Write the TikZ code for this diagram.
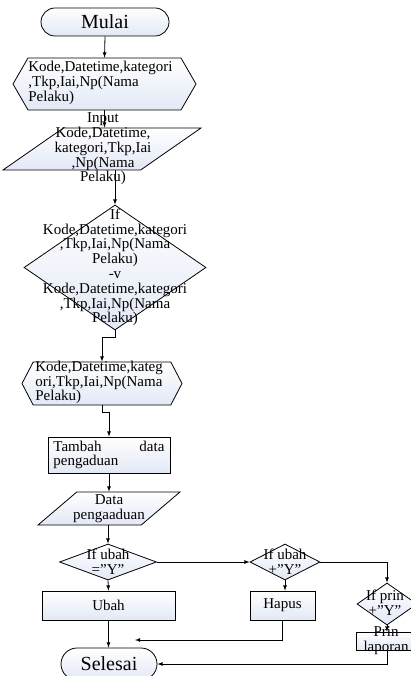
\documentclass[tikz,border=0pt]{standalone}
\usepackage{fontspec}
\setmainfont{Liberation Serif}
\usetikzlibrary{positioning,shapes,arrows}
\definecolor{boxblue}{RGB}{226,232,245}

\tikzset{
  shp/.style={draw,line width=0.8pt,top color=white,bottom color=boxblue,inner sep=1pt},
  term/.style={shp,rounded rectangle},
  prep/.style={shp,signal,signal to=west and east},
  io/.style={shp,trapezium,trapezium stretches=true},
  dec/.style={shp,diamond},
  proc/.style={shp,rectangle},
  txt/.style={font=\fontsize{15}{14.8}\selectfont,inner sep=0pt},
  bigtxt/.style={font=\fontsize{20}{22}\selectfont,inner sep=0pt},
}

\begin{document}
\begin{tikzpicture}[x=1pt,y=-1pt,line width=0.8pt,>=latex]
\useasboundingbox (0,0) rectangle (410,676);
% shapes
\node[term,minimum width=130pt,minimum height=28pt] (mulai) at (105,22) {};
\node[prep,signal pointer angle=120,minimum width=183pt,minimum height=52pt] (hexone) at (104.5,84) {};
\node[io,trapezium left angle=52,trapezium right angle=128,minimum width=198pt,minimum height=42pt] (input) at (102,149) {};
\node[dec,minimum width=182pt,minimum height=125pt] (cek) at (115,267.5) {};
\node[prep,signal pointer angle=125,minimum width=160pt,minimum height=43pt] (hextwo) at (102,383.5) {};
\node[proc,minimum width=122pt,minimum height=36pt] (tambah) at (109,455) {};
\node[io,trapezium left angle=59,trapezium right angle=121,minimum width=142pt,minimum height=33pt] (data) at (109,508.5) {};
\node[dec,minimum width=97pt,minimum height=36pt] (ifubah) at (108,562) {};
\node[dec,minimum width=70pt,minimum height=36pt] (ifhapus) at (285,562) {};
\node[dec,minimum width=60pt,minimum height=42pt] (ifprin) at (387,604) {};
\node[proc,minimum width=133pt,minimum height=29pt] (ubah) at (108.5,605.5) {};
\node[proc,minimum width=65pt,minimum height=29pt] (hapus) at (282.5,605.5) {};
\node[proc,minimum width=62pt,minimum height=18pt] (prin) at (387,641) {};
\node[term,minimum width=98pt,minimum height=32pt] (selesai) at (109,664) {};
\coordinate (hapusend) at (135,640);
%
% connectors
\draw[->] (mulai.south) -- (hexone.north);
\draw[->] (hexone.south) -- (hexone.south |- input.north);
\draw[->] (cek.north |- input.south) -- (cek.north);
\draw[->] (cek.south) -- ++(0,7) -| (hextwo.north);
\draw[->] (hextwo.south) -- ++(0,7) -| (tambah.north);
\draw[->] (tambah.south) -- (tambah.south |- data.north);
\draw[->] (ifubah.north |- data.south) -- (ifubah.north);
\draw[->] (ifubah.south) -- (ubah.north);
\draw[->] (ifubah.east) -- (ifhapus.west);
\draw[->] (ifhapus.south) -- (ifhapus.south |- hapus.north);
\draw[->] (ifhapus.east) -| (ifprin.north);
\draw[->] (ifprin.south) -- (prin.north);
\draw[->] (prin.south) |- (selesai.east);
\draw[->] (ubah.south) -- (ubah.south |- selesai.north);
\draw[->] (hapus.south) |- (hapusend);
%
% texts
\node[bigtxt] (mulaitext) at (mulai) {Mulai};
\node[txt,anchor=west,align=left] (hexonetext) at (28,83) {Kode,Datetime,kategori\\,Tkp,Iai,Np(Nama\\Pelaku)};
\node[txt,align=center] (inputtext) at (103,149) {Input\\Kode,Datetime,\\kategori,Tkp,Iai\\,Np(Nama\\Pelaku)};
\node[txt,align=center] (cektext) at (cek) {If\\Kode,Datetime,kategori\\,Tkp,Iai,Np(Nama\\Pelaku)\\-v\\Kode,Datetime,kategori\\,Tkp,Iai,Np(Nama\\Pelaku)};
\node[txt,anchor=west,align=left] (hextwotext) at (35,382.5) {Kode,Datetime,kateg\\ori,Tkp,Iai,Np(Nama\\Pelaku)};
\node[txt,anchor=west,align=left] (tambahtext) at (53,455) {\makebox[111pt][s]{Tambah\hfill data}\\pengaduan};
\node[txt,align=center] (datatext) at (data) {Data\\pengaaduan};
\node[txt,align=center] (ifubahtext) at (ifubah) {If ubah\\=”Y”};
\node[txt,align=center] (ifhapustext) at (ifhapus) {If ubah\\+”Y”};
\node[txt,align=center] (ifprintext) at (385,603) {If prin\\+”Y”};
\node[txt] (ubahtext) at (ubah) {Ubah};
\node[txt] (hapustext) at (hapus) {Hapus};
\node[txt,align=center] (printext) at (386,641) {Prin\\laporan};
\node[bigtxt] (selesaitext) at (selesai) {Selesai};
\end{tikzpicture}
\end{document}
